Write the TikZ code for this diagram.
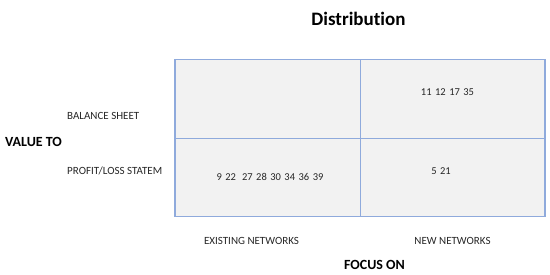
\documentclass[tikz,border=0pt]{standalone}
\usepackage{fontspec}
\setmainfont[Ligatures=NoCommon]{Carlito}
\usetikzlibrary{positioning}
\definecolor{cGrid}{RGB}{143,170,220}
\definecolor{cCell}{RGB}{242,242,242}
\definecolor{cInk}{RGB}{38,38,38}
\tikzset{
    cell/.style     ={rectangle, minimum width=185pt, minimum height=78.5pt, inner sep=0pt, outer sep=0pt, fill=cCell, draw=cGrid, line width=0.8pt},
    frame/.style    ={draw=cGrid, line width=1.4pt},
    bigtitle/.style ={font=\bfseries\fontsize{19}{22}\selectfont, text=black},
    axistitle/.style={font=\bfseries\fontsize{14}{16}\selectfont, text=black},
    rowlabel/.style ={font=\fontsize{11}{13}\selectfont, text=cInk, anchor=west, inner sep=0pt},
    collabel/.style ={font=\fontsize{11}{13}\selectfont, text=cInk, inner sep=0pt},
    entry/.style    ={font=\fontsize{10.5}{12}\selectfont, text=cInk, inner sep=0pt},
}

\begin{document}
\begin{tikzpicture}[x=1pt, y=-1pt]
                \useasboundingbox (0,0) rectangle (550,274);
                % the 2x2 grid
                \node[cell] (tl) at (267.5,98.75){};
                \node[cell, right=0pt of tl] (tr){};
                \node[cell, below=0pt of tl] (bl){};
                \node[cell, right=0pt of bl] (br){};
                \draw[frame] (tl.north west) rectangle (br.south east);
                % cell entries
                \node[entry] (ntr) at (447.5,92){11\hspace{3.5pt}12\hspace{3.5pt}17\hspace{3.5pt}35};
                \node[entry] (nbl) at (270,177){9\hspace{3.5pt}22\hspace{6pt}27\hspace{3.5pt}28\hspace{3.5pt}30\hspace{3.5pt}34\hspace{3.5pt}36\hspace{3.5pt}39};
                \node[entry] (nbr) at (441,171.5){5\hspace{3.5pt}21};
                % titles and labels
                \node[bigtitle] (title) at (358.5,18.5){Distribution};
                \node[axistitle, anchor=west, inner sep=0pt] (value) at (5,142){VALUE TO};
                \node[rowlabel] (rbal) at (67,116){BALANCE SHEET};
                \node[rowlabel] (rpl) at (67,170.5){PROFIT/LOSS STATEM};
                \node[collabel] (cex) at (251.5,241){EXISTING NETWORKS};
                \node[collabel] (cnew) at (452.5,241){NEW NETWORKS};
                \node[axistitle] (focus) at (374.5,265){FOCUS ON};
            \end{tikzpicture}
\end{document}
